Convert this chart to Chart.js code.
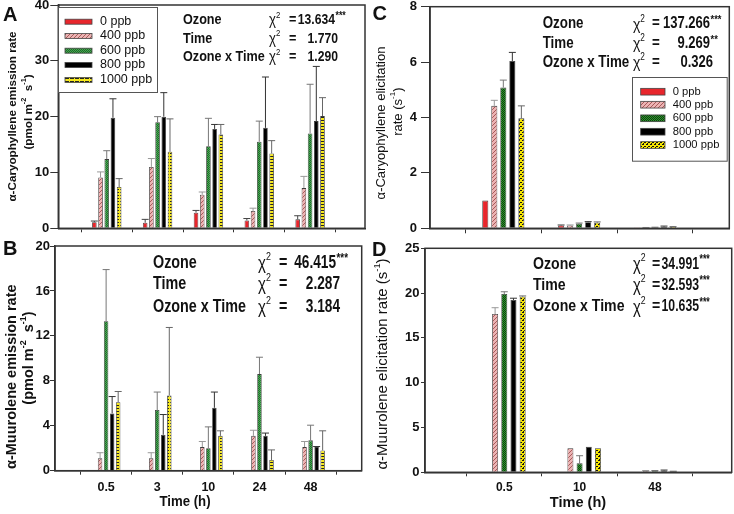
<!DOCTYPE html>
<html><head><meta charset="utf-8">
<script src="https://cdn.jsdelivr.net/npm/chart.js@4.4.1/dist/chart.umd.min.js"></script>
<style>
html,body{margin:0;padding:0;background:#fff;}
#wrap{position:relative;width:734px;height:514px;overflow:hidden;background:#fff;}
canvas{position:absolute;}
</style></head><body>
<div id="wrap">
<canvas id="cA" width="370" height="240" style="left:0;top:0"></canvas>
<canvas id="cB" width="370" height="274" style="left:0;top:240px"></canvas>
<canvas id="cC" width="364" height="240" style="left:370px;top:0"></canvas>
<canvas id="cD" width="364" height="274" style="left:370px;top:240px"></canvas>
</div>
<script>
// ---------- categories ----------
const concentrations = ['0 ppb', '400 ppb', '600 ppb', '800 ppb', '1000 ppb'];
const timesAB = ['0.5', '3', '10', '24', '48'];
const timesCD = ['0.5', '10', '48'];

// ---------- Panel A: alpha-caryophyllene emission rate ----------
const caryEmis0    = [1.1, 1.0, 2.8, 1.4, 1.6];
const caryEmis400  = [9.1, 11.0, 6.0, 3.1, 7.2];
const caryEmis600  = [12.4, 19.0, 14.7, 15.5, 17.0];
const caryEmis800  = [19.8, 20.0, 17.8, 18.0, 19.2];
const caryEmis1000 = [7.4, 13.7, 16.8, 13.4, 20.1];
const caryEmisErr0    = [0.2, 0.6, 0.4, 0.35, 0.65];
const caryEmisErr400  = [1.0, 1.5, 0.5, 0.5, 2.1];
const caryEmisErr600  = [1.5, 1.0, 5.0, 3.7, 8.8];
const caryEmisErr800  = [3.4, 4.3, 0.8, 9.1, 9.8];
const caryEmisErr1000 = [1.5, 5.9, 1.8, 2.3, 3.3];

// ---------- Panel B: alpha-muurolene emission rate ----------
const muurEmis0    = [0, 0, 0, 0, 0];
const muurEmis400  = [1.1, 1.1, 2.1, 3.1, 2.1];
const muurEmis600  = [13.3, 5.4, 2.0, 8.6, 2.7];
const muurEmis800  = [5.1, 3.2, 5.6, 3.1, 2.1];
const muurEmis1000 = [6.1, 6.7, 3.1, 0.95, 1.8];
const muurEmisErr0    = [0, 0, 0, 0, 0];
const muurEmisErr400  = [0.5, 0.5, 0.5, 0.5, 0.5];
const muurEmisErr600  = [4.6, 1.6, 1.9, 1.5, 1.35];
const muurEmisErr800  = [1.5, 1.8, 1.4, 0.25, 0.05];
const muurEmisErr1000 = [0.95, 6.05, 0.45, 0.9, 1.75];

// ---------- Panel C: alpha-caryophyllene elicitation rate ----------
const caryElic0    = [1.0, 0.1, 0.01];
const caryElic400  = [4.42, 0.1, 0.02];
const caryElic600  = [5.08, 0.17, 0.03];
const caryElic800  = [6.04, 0.22, 0.06];
const caryElic1000 = [3.97, 0.2, 0.05];
const caryElicErr0    = [0, 0.02, 0];
const caryElicErr400  = [0.2, 0.02, 0.01];
const caryElicErr600  = [0.27, 0.02, 0.01];
const caryElicErr800  = [0.31, 0.02, 0.02];
const caryElicErr1000 = [0.45, 0.03, 0.01];

// ---------- Panel D: alpha-muurolene elicitation rate ----------
const muurElic0    = [0, 0, 0];
const muurElic400  = [17.67, 2.68, 0.15];
const muurElic600  = [19.9, 1.0, 0.15];
const muurElic800  = [19.23, 2.86, 0.2];
const muurElic1000 = [19.6, 2.68, 0.1];
const muurElicErr0    = [0, 0, 0];
const muurElicErr400  = [0.7, 0, 0.05];
const muurElicErr600  = [0.25, 0.85, 0.05];
const muurElicErr800  = [0.2, 0, 0.05];
const muurElicErr1000 = [0.08, 0, 0.02];

// ---------- statistics text ----------
const statLabels = ['Ozone', 'Time', 'Ozone x Time'];
const statsA = ['13.634', '1.770', '1.290'];   const starsA = ['***', '', ''];
const statsB = ['46.415', '2.287', '3.184'];   const starsB = ['***', '', ''];
const statsC = ['137.266', '9.269', '0.326'];  const starsC = ['***', '**', ''];
const statsD = ['34.991', '32.593', '10.635']; const starsD = ['***', '***', '***'];

// ---------- y tick settings ----------
const yMaxA = 40, yStepA = 10;
const yMaxB = 20, yStepB = 4;
const yMaxC = 8,  yStepC = 2;
const yMaxD = 25, yStepD = 5;

const FONT = "'Liberation Sans', Arial, Helvetica, sans-serif";

function makePattern(w, h, bg, color, cells) {
  const c = document.createElement('canvas'); c.width = w; c.height = h;
  const g = c.getContext('2d');
  g.fillStyle = bg; g.fillRect(0, 0, w, h);
  g.fillStyle = color;
  cells.forEach(([x, y, dw, dh]) => g.fillRect(x, y, dw || 1, dh || 1));
  return g.createPattern(c, 'repeat');
}
const RED = '#e8262c';
const pinkHatch = makePattern(4, 4, '#ecb4b4', '#a85a5a', [[0,3],[1,2],[2,1],[3,0]]);
const greenA = makePattern(2, 2, '#47a650', '#1e6a2a', [[0,0],[1,1]]);
const yellowA = makePattern(5, 3, '#f6e81c', '#222', [[0,0,4,1]]);
const greenC = makePattern(2, 2, '#2e962e', '#0d3f0d', [[0,0],[1,1]]);
const yellowC = makePattern(4, 4, '#f6e600', '#111', [[0,0,2,1],[2,2,2,1],[1,3,1,1]]);

const fillsA = [RED, pinkHatch, greenA, '#000', yellowA];
const fillsC = [RED, pinkHatch, greenC, '#000', yellowC];
const errColors = ['#444', '#999', '#777', '#333', '#666'];

// ---------- text helpers ----------
function drawRich(ctx, segs, x, y, o) {
  ctx.save();
  ctx.translate(x, y);
  if (o.rot) ctx.rotate(o.rot);
  ctx.scale(o.sx || 1, 1);
  ctx.textBaseline = 'middle';
  ctx.textAlign = 'left';
  ctx.fillStyle = o.color || '#111';
  let total = 0;
  const parts = segs.map(s => {
    const sz = s.size || (s.sup ? o.size * 0.62 : o.size);
    const wt = s.weight || o.weight || 'bold';
    const f = `${wt} ${sz}px ${FONT}`;
    ctx.font = f;
    const w = ctx.measureText(s.t).width;
    total += w;
    return { s, f, w, sz };
  });
  let cx = o.align === 'center' ? -total / 2 : (o.align === 'right' ? -total : 0);
  parts.forEach(p => {
    ctx.font = p.f;
    const dy = p.s.sup ? -o.size * 0.38 : (p.s.dy || 0);
    ctx.fillText(p.s.t, cx, dy);
    cx += p.w;
  });
  ctx.restore();
}
const T = (t, extra) => Object.assign({ t }, extra || {});

// ---------- per-panel decoration config ----------
const decorCfg = {};

const decorPlugin = {
  id: 'decor',
  afterDatasetsDraw(chart) {
    const d = decorCfg[chart.canvas.id];
    const ctx = chart.ctx, ys = chart.scales.y;
    chart.data.datasets.forEach((ds, k) => {
      const meta = chart.getDatasetMeta(k);
      meta.data.forEach((el, i) => {
        const e = d.errors[k][i];
        if (!e) return;
        const v = ds.data[i].y;
        const yTop = ys.getPixelForValue(v + e);
        ctx.save();
        ctx.strokeStyle = errColors[k];
        ctx.lineWidth = 1;
        ctx.beginPath();
        ctx.moveTo(el.x, el.y);
        ctx.lineTo(el.x, yTop);
        ctx.moveTo(el.x - d.cap / 2, yTop);
        ctx.lineTo(el.x + d.cap / 2, yTop);
        ctx.stroke();
        ctx.restore();
      });
    });
  },
  afterDraw(chart) {
    const d = decorCfg[chart.canvas.id];
    const ctx = chart.ctx, a = chart.chartArea;
    // frame
    ctx.save();
    ctx.strokeStyle = '#333'; ctx.lineWidth = 1.5;
    ctx.strokeRect(a.left, a.top, a.right - a.left, a.bottom - a.top);
    ctx.restore();
    // panel letter
    drawRich(ctx, [T(d.letter.t)], d.letter.x, d.letter.y, { size: 20, weight: 'bold', sx: 1 });
    // y title
    d.yTitle.forEach(l => drawRich(ctx, l.segs, l.x, l.y, { size: l.size, weight: l.weight, rot: -Math.PI / 2, align: 'center', sx: 1 }));
    // x title
    if (d.xTitle) drawRich(ctx, [T('Time (h)')], d.xTitle.x, d.xTitle.y, { size: d.xTitle.size, weight: 'bold', sx: d.xTitle.sx, align: 'center' });
    // statistics
    const s = d.stats;
    statLabels.forEach((lab, r) => {
      const y = s.rows[r];
      drawRich(ctx, [T(lab)], s.lx, y, { size: s.size, weight: 'bold', sx: s.sx });
      drawRich(ctx, [T('\u03C7', { weight: 'normal', size: s.size * 1.05 }), T('2', { sup: true, weight: 'normal' })], s.cx, y + 1, { size: s.size, weight: 'normal', sx: s.sx });
      drawRich(ctx, [T('=')], s.ex, y, { size: s.size, weight: 'bold', sx: s.sx });
      drawRich(ctx, [T(s.nums[r])], s.nx[r], y, { size: s.size, weight: 'bold', sx: s.nsx, align: 'right' });
      if (s.stars[r]) drawRich(ctx, [T(s.stars[r])], s.nx[r] + 0.5, y - 4, { size: s.size * 0.72, weight: 'bold', sx: s.nsx });
    });
    // legend
    const L = d.legend;
    if (L) {
      ctx.save();
      ctx.fillStyle = '#fff';
      ctx.fillRect(L.box[0], L.box[1], L.box[2] - L.box[0], L.box[3] - L.box[1]);
      ctx.strokeStyle = '#555'; ctx.lineWidth = 1;
      ctx.strokeRect(L.box[0] + 0.5, L.box[1] + 0.5, L.box[2] - L.box[0], L.box[3] - L.box[1]);
      concentrations.forEach((c, i) => {
        const y = L.rows[i];
        ctx.fillStyle = d.fills[i];
        ctx.fillRect(L.sx, y - L.sh / 2, L.sw, L.sh);
        ctx.strokeStyle = '#444'; ctx.lineWidth = 0.8;
        ctx.strokeRect(L.sx, y - L.sh / 2, L.sw, L.sh);
      });
      ctx.restore();
      concentrations.forEach((c, i) => drawRich(ctx, [T(c)], L.tx, L.rows[i], { size: L.size, weight: 'normal', sx: 1 }));
    }
  }
};

function makePanel(id, p) {
  const series = p.series;
  const datasets = series.map((vals, k) => ({
    label: concentrations[k],
    data: vals.map((v, i) => ({ x: i + 1, y: v })),
    backgroundColor: p.fills[k],
    borderColor: '#3a3a3a',
    borderWidth: 0.8,
    categoryPercentage: p.catPct,
    barPercentage: p.barPct
  }));
  decorCfg[id] = p.decor;
  p.decor.fills = p.fills;
  new Chart(document.getElementById(id), {
    type: 'bar',
    data: { datasets },
    options: {
      responsive: false,
      animation: false,
      devicePixelRatio: 1,
      layout: { padding: { left: 0, top: p.padTop, right: p.padRight, bottom: 0 } },
      plugins: { legend: { display: false }, tooltip: { enabled: false } },
      scales: {
        x: {
          type: 'linear', min: p.xmin, max: p.xmax, offset: false,
          afterBuildTicks: s => { s.ticks = p.labels.map((l, i) => ({ value: i + 1 })); },
          afterFit: s => { s.height = p.xH; s.paddingLeft = 0; s.paddingRight = 0; },
          ticks: {
            display: p.showX, autoSkip: false, maxRotation: 0, padding: p.xPad,
            callback: v => p.labels[Math.round(v) - 1],
            font: { family: FONT, size: p.xFont, weight: 'bold' }, color: '#111'
          },
          grid: { display: true, drawOnChartArea: false, drawTicks: true, tickLength: p.xTick, color: '#333', lineWidth: 1 },
          border: { display: true, color: '#333', width: 1.5 }
        },
        y: {
          min: 0, max: p.ymax,
          afterFit: s => { s.width = p.yW; s.paddingTop = 0; s.paddingBottom = 0; },
          ticks: {
            stepSize: p.ystep, padding: p.yPad,
            font: { family: FONT, size: 13, weight: 'bold' }, color: '#111'
          },
          grid: { display: true, drawOnChartArea: false, drawTicks: true, tickLength: p.yTick, color: '#333', lineWidth: 1 },
          border: { display: true, color: '#333', width: 1.5 }
        }
      }
    },
    plugins: [decorPlugin]
  });
}

const sup = (t) => T(t, { sup: true });

// ---------- Panel A ----------
makePanel('cA', {
  series: [caryEmis0, caryEmis400, caryEmis600, caryEmis800, caryEmis1000],
  fills: fillsA, labels: timesAB, showX: false,
  xmin: 0.047, xmax: 6.08, ymax: yMaxA, ystep: yStepA,
  yW: 58.3, xH: 11.7, padTop: 5, padRight: 5,
  catPct: 0.61, barPct: 0.74, xTick: 4, yTick: 8, yPad: 1, xPad: 4, xFont: 13,
  decor: {
    errors: [caryEmisErr0, caryEmisErr400, caryEmisErr600, caryEmisErr800, caryEmisErr1000],
    cap: 7,
    letter: { t: 'A', x: 3, y: 15 },
    yTitle: [
      { segs: [T('\u03B1-Caryophyllene emission rate')], x: 12.5, y: 116.5, size: 11.7, weight: 'bold' },
      { segs: [T('(pmol m'), sup('-2'), T('  s'), sup('-1'), T(')')], x: 28.5, y: 112, size: 11.7, weight: 'bold' }
    ],
    xTitle: null,
    stats: { lx: 183, cx: 269, ex: 289, nx: [335, 338, 338], rows: [20, 38.5, 57], nums: statsA, stars: starsA, size: 15.4, sx: 0.82, nsx: 0.79 },
    legend: { box: [58, 7, 157, 92], sx: 65, sw: 27, sh: 5, rows: [21.7, 36, 50.7, 65, 80], tx: 100, size: 12.5 }
  }
});

// ---------- Panel B ----------
makePanel('cB', {
  series: [muurEmis0, muurEmis400, muurEmis600, muurEmis800, muurEmis1000],
  fills: fillsA, labels: timesAB, showX: true,
  xmin: 0, xmax: 6, ymax: yMaxB, ystep: yStepB,
  yW: 55, xH: 43.3, padTop: 6, padRight: 8.3,
  catPct: 0.59, barPct: 0.74, xTick: 4, yTick: 5, yPad: 0, xPad: 5.5, xFont: 12.5,
  decor: {
    errors: [muurEmisErr0, muurEmisErr400, muurEmisErr600, muurEmisErr800, muurEmisErr1000],
    cap: 7,
    letter: { t: 'B', x: 3, y: 9.5 },
    yTitle: [
      { segs: [T('\u03B1-Muurolene emission rate')], x: 11.7, y: 136.7, size: 14.5, weight: 'bold' },
      { segs: [T('(pmol m'), sup('-2'), T('  s'), sup('-1'), T(')')], x: 29, y: 118, size: 14.5, weight: 'bold' }
    ],
    xTitle: { x: 185, y: 262, size: 15, sx: 0.88 },
    stats: { lx: 153, cx: 258, ex: 279, nx: [336, 340, 340], rows: [23, 44, 66.7], nums: statsB, stars: starsB, size: 17.5, sx: 0.82, nsx: 0.78 },
    legend: null
  }
});

// ---------- Panel C ----------
makePanel('cC', {
  series: [caryElic0, caryElic400, caryElic600, caryElic800, caryElic1000],
  fills: fillsC, labels: timesCD, showX: false,
  xmin: 0.033, xmax: 3.98, ymax: yMaxC, ystep: yStepC,
  yW: 60, xH: 11.7, padTop: 6.7, padRight: 4.7,
  catPct: 0.595, barPct: 0.67, xTick: 5, yTick: 9, yPad: 4, xPad: 4, xFont: 13,
  decor: {
    errors: [caryElicErr0, caryElicErr400, caryElicErr600, caryElicErr800, caryElicErr1000],
    cap: 7,
    letter: { t: 'C', x: 2.5, y: 14 },
    yTitle: [
      { segs: [T('\u03B1-Caryophyllene elicitation')], x: 11.7, y: 123, size: 13, weight: 'normal' },
      { segs: [T('rate (s'), sup('-1'), T(')')], x: 28, y: 111.7, size: 13, weight: 'normal' }
    ],
    xTitle: null,
    stats: { lx: 172.7, cx: 263, ex: 282, nx: [340, 340, 343], rows: [24, 43.3, 62.7], nums: statsC, stars: starsC, size: 16.3, sx: 0.82, nsx: 0.8 },
    legend: { box: [262, 77, 356.7, 160.7], sx: 270.7, sw: 24.3, sh: 6.7, rows: [91.7, 104.7, 118.3, 131.7, 145], tx: 302.7, size: 11.2 }
  }
});

// ---------- Panel D ----------
makePanel('cD', {
  series: [muurElic0, muurElic400, muurElic600, muurElic800, muurElic1000],
  fills: fillsC, labels: timesCD, showX: true,
  xmin: -0.053, xmax: 4.02, ymax: yMaxD, ystep: yStepD,
  yW: 55, xH: 41.7, padTop: 8.3, padRight: 2.3,
  catPct: 0.61, barPct: 0.65, xTick: 4, yTick: 4, yPad: 1.5, xPad: 4.2, xFont: 12,
  decor: {
    errors: [muurElicErr0, muurElicErr400, muurElicErr600, muurElicErr800, muurElicErr1000],
    cap: 7,
    letter: { t: 'D', x: 2, y: 10 },
    yTitle: [
      { segs: [T('\u03B1-Muurolene elicitation rate (s'), sup('-1'), T(')')], x: 13, y: 124, size: 15, weight: 'normal' }
    ],
    xTitle: { x: 208, y: 263, size: 15.5, sx: 0.94 },
    stats: { lx: 163, cx: 263, ex: 282, nx: [329, 329, 329], rows: [24, 45, 66.7], nums: statsD, stars: starsD, size: 17, sx: 0.83, nsx: 0.72 },
    legend: null
  }
});
</script>
</body></html>
